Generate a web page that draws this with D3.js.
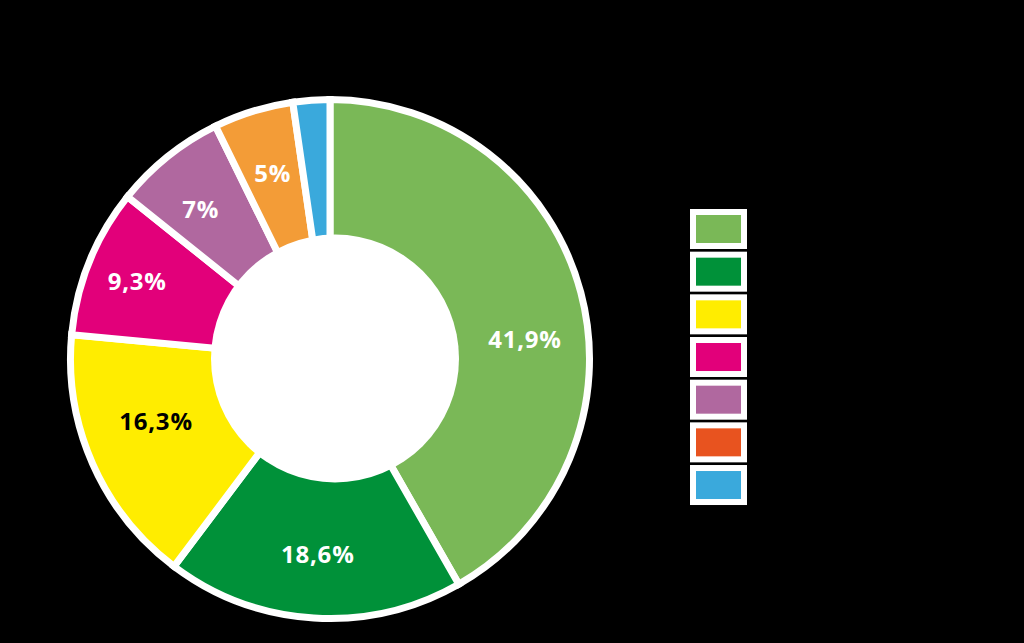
<!DOCTYPE html>
<html>
<head>
<meta charset="utf-8">
<script src="https://cdn.jsdelivr.net/npm/d3@7"></script>
<style>
  html, body { margin: 0; padding: 0; background: #000; }
  svg { display: block; }
</style>
</head>
<body>
<svg id="chart" width="1024" height="643"></svg>
<script>
// ---- data ----
const values = [41.9, 18.6, 16.3, 9.3, 7, 5, 2.3];
const valueLabels = ["41,9%", "18,6%", "16,3%", "9,3%", "7%", "5%", ""];
const sliceColors = ["#7ab857", "#009139", "#ffed00", "#e2007a", "#b0689f", "#f39c37", "#3aa9dc"];
const legendColors = ["#7ab857", "#009139", "#ffed00", "#e2007a", "#b0689f", "#e8531f", "#3aa9dc"];
const labelColors = ["#fff", "#fff", "#000", "#fff", "#fff", "#fff", "#fff"];

// ---- layout ----
const cx = 330, cy = 359;
const outerR = 259.5, ringR = 261;
const hole = { x: 335, y: 358.5, r: 124 };
const labelR = 196;
// label nudges: [angle offset in degrees, radial offset in px]
const labelNudge = [[9, 0], [0, 0], [4, -11], [0, 12], [-2, 2], [0, -2], [0, 0]];

const svg = d3.select("#chart");
svg.append("rect").attr("width", 1024).attr("height", 643).attr("fill", "#000");

const g = svg.append("g").attr("transform", `translate(${cx},${cy})`);

g.append("circle").attr("r", ringR).attr("fill", "#fff");

const pie = d3.pie().sort(null).value(d => d);
const arcs = pie(values);
const arc = d3.arc().innerRadius(100).outerRadius(outerR);

g.selectAll("path.slice")
  .data(arcs)
  .join("path")
  .attr("class", "slice")
  .attr("d", arc)
  .attr("fill", (d, i) => sliceColors[i])
  .attr("stroke", "#fff")
  .attr("stroke-width", 7)
  .attr("stroke-linejoin", "miter");

svg.append("circle")
  .attr("cx", hole.x).attr("cy", hole.y).attr("r", hole.r)
  .attr("fill", "#fff");

g.selectAll("text.lbl")
  .data(arcs)
  .join("text")
  .attr("class", "lbl")
  .attr("transform", (d, i) => {
    const a = (d.startAngle + d.endAngle) / 2 + labelNudge[i][0] * Math.PI / 180;
    const r = labelR + labelNudge[i][1];
    return `translate(${r * Math.sin(a)},${-r * Math.cos(a)})`;
  })
  .attr("text-anchor", "middle")
  .attr("dy", "0.36em")
  .attr("font-family", "'Open Sans', sans-serif")
  .attr("font-weight", 700)
  .attr("font-size", 24)
  .attr("letter-spacing", "0.8px")
  .attr("fill", (d, i) => labelColors[i])
  .text((d, i) => valueLabels[i]);

// ---- legend ----
const legendY = d3.scaleLinear().domain([0, legendColors.length]).range([209, 209 + 42.67 * legendColors.length]);
const lg = svg.append("g");
legendColors.forEach((c, i) => {
  lg.append("rect")
    .attr("x", 690).attr("y", legendY(i))
    .attr("width", 57).attr("height", 40)
    .attr("fill", "#fff");
  lg.append("rect")
    .attr("x", 696).attr("y", legendY(i) + 6)
    .attr("width", 45).attr("height", 28)
    .attr("fill", c);
});
</script>
</body>
</html>
